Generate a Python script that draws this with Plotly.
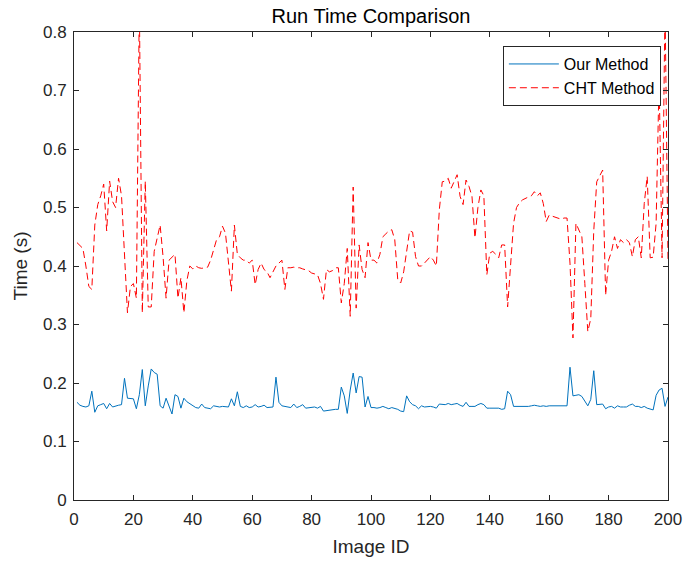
import plotly.graph_objects as go

image_id = list(range(1, 201))

our_method = [
0.167,0.162,0.160,0.159,0.161,0.186,0.150,0.161,0.163,0.165,
0.156,0.165,0.159,0.161,0.162,0.163,0.208,0.174,0.174,0.173,
0.156,0.180,0.223,0.161,0.195,0.224,0.218,0.215,0.161,0.157,
0.174,0.160,0.147,0.180,0.177,0.157,0.174,0.168,0.165,0.161,
0.158,0.157,0.164,0.158,0.157,0.156,0.161,0.160,0.159,0.160,
0.159,0.159,0.173,0.161,0.185,0.160,0.158,0.161,0.158,0.159,
0.163,0.159,0.160,0.162,0.158,0.159,0.159,0.210,0.167,0.161,
0.160,0.159,0.158,0.164,0.158,0.160,0.163,0.157,0.158,0.158,
0.159,0.157,0.160,0.152,0.153,0.153,0.155,0.155,0.155,0.193,
0.178,0.148,0.188,0.217,0.183,0.211,0.210,0.159,0.177,0.158,
0.158,0.157,0.158,0.160,0.158,0.156,0.158,0.157,0.155,0.152,
0.151,0.178,0.168,0.163,0.161,0.156,0.161,0.159,0.160,0.160,
0.159,0.157,0.164,0.163,0.163,0.165,0.163,0.164,0.165,0.162,
0.160,0.167,0.160,0.160,0.160,0.163,0.165,0.163,0.157,0.157,
0.157,0.158,0.157,0.155,0.156,0.186,0.180,0.160,0.160,0.160,
0.159,0.160,0.160,0.161,0.162,0.161,0.160,0.161,0.160,0.161,
0.161,0.160,0.161,0.161,0.161,0.161,0.227,0.178,0.179,0.180,
0.177,0.170,0.161,0.172,0.221,0.163,0.164,0.164,0.156,0.159,
0.160,0.157,0.161,0.159,0.159,0.159,0.162,0.164,0.160,0.160,
0.158,0.160,0.157,0.156,0.154,0.179,0.188,0.191,0.160,0.176,
]

cht_method = [
0.440,0.435,0.430,0.400,0.365,0.360,0.470,0.505,0.520,0.540,
0.460,0.545,0.510,0.500,0.550,0.520,0.420,0.320,0.365,0.370,
0.345,0.850,0.320,0.545,0.330,0.330,0.425,0.445,0.470,0.415,
0.345,0.410,0.415,0.420,0.345,0.380,0.320,0.375,0.400,0.395,
0.400,0.397,0.396,0.397,0.398,0.410,0.430,0.445,0.450,0.468,
0.456,0.405,0.357,0.470,0.420,0.414,0.410,0.410,0.405,0.410,
0.368,0.394,0.405,0.394,0.390,0.380,0.390,0.400,0.405,0.410,
0.360,0.397,0.397,0.398,0.397,0.397,0.395,0.394,0.392,0.388,
0.386,0.385,0.370,0.343,0.394,0.390,0.392,0.397,0.397,0.337,
0.370,0.430,0.314,0.535,0.328,0.436,0.394,0.380,0.440,0.410,
0.410,0.405,0.420,0.450,0.455,0.460,0.462,0.445,0.377,0.371,
0.390,0.422,0.460,0.458,0.416,0.400,0.400,0.405,0.410,0.416,
0.410,0.400,0.496,0.544,0.545,0.550,0.533,0.545,0.556,0.519,
0.505,0.547,0.536,0.519,0.448,0.500,0.530,0.520,0.385,0.422,
0.425,0.420,0.414,0.436,0.436,0.330,0.405,0.473,0.500,0.508,
0.513,0.516,0.518,0.520,0.527,0.520,0.525,0.507,0.476,0.487,
0.485,0.483,0.482,0.480,0.482,0.482,0.405,0.277,0.473,0.460,
0.450,0.370,0.288,0.310,0.460,0.544,0.555,0.564,0.350,0.410,
0.425,0.450,0.430,0.445,0.440,0.445,0.440,0.416,0.445,0.450,
0.414,0.507,0.553,0.414,0.415,0.473,0.720,0.414,0.850,0.410,
]

x_ticks = [0, 20, 40, 60, 80, 100, 120, 140, 160, 180, 200]
y_ticks = [0, 0.1, 0.2, 0.3, 0.4, 0.5, 0.6, 0.7, 0.8]
y_tick_labels = ["0", "0.1", "0.2", "0.3", "0.4", "0.5", "0.6", "0.7", "0.8"]

FONT = "Liberation Sans, Arial, Helvetica, sans-serif"
AXC = "#262626"

fig = go.Figure()
fig.add_trace(go.Scatter(x=image_id, y=our_method, mode="lines", name="Our Method",
                         line=dict(color="#0072BD", width=1)))
fig.add_trace(go.Scatter(x=image_id, y=cht_method, mode="lines", name="CHT Method",
                         line=dict(color="#FF0000", width=1, dash="7px,4px")))

axis_common = dict(showgrid=False, zeroline=False, showline=True, linecolor=AXC,
                   linewidth=1, mirror="ticks", ticks="inside", ticklen=5,
                   tickcolor=AXC, automargin=False,
                   tickfont=dict(family=FONT, size=17, color=AXC))

fig.update_layout(
    width=687, height=565,
    margin=dict(l=74, r=19, t=32, b=65),
    paper_bgcolor="white", plot_bgcolor="white",
    title=dict(text="Run Time Comparison", x=0.5, xref="paper", xanchor="center",
               y=1 - 16 / 565, yanchor="middle",
               font=dict(family=FONT, size=20, color="#000000")),
    xaxis=dict(range=[0, 200], tickvals=x_ticks, ticklabelstandoff=4,
               title=dict(text="Image ID", font=dict(family=FONT, size=19, color=AXC), standoff=11),
               **axis_common),
    yaxis=dict(range=[0, 0.8], tickvals=y_ticks, ticktext=y_tick_labels, ticklabelstandoff=3,
               title=dict(text="Time (s)", font=dict(family=FONT, size=19, color=AXC), standoff=10),
               **axis_common),
    showlegend=True,
    legend=dict(x=0.988, xanchor="right", y=0.97, yanchor="top",
                bordercolor=AXC, borderwidth=1, bgcolor="white",
                font=dict(family=FONT, size=16, color="#000000"),
                tracegroupgap=0, itemwidth=50),
)

fig.write_html("out.html", config={"displayModeBar": False},
               post_script="document.body.style.margin='0';")
